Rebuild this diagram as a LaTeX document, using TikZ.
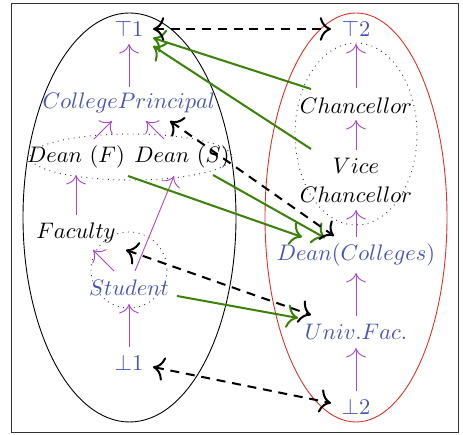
\documentclass[tikz,border=0pt]{standalone}
\usetikzlibrary{arrows.meta}
\definecolor{nodeblue}{RGB}{72,86,178}
\definecolor{purp}{RGB}{170,70,200}
\definecolor{grn}{RGB}{60,130,10}
\definecolor{redl}{RGB}{220,50,40}
\begin{document}
\begin{tikzpicture}[x=0.445pt,y=-0.445pt,
  bl/.style={text=nodeblue},
  bk/.style={text=black},
  parr/.style={draw=purp,-{To[scale=1.7]}},
  garr/.style={draw=grn,line width=0.9pt,-{To[scale=1.4]}},
  darr/.style={draw=black,line width=0.9pt,dash pattern=on 4pt off 3pt,{To[scale=1.4]}-{To[scale=1.4]}},
  dots/.style={draw=black!80,dotted}]
\useasboundingbox (0,0) rectangle (463,435);
\draw[black!80] (11,3) rectangle (458,432);
% containers
\draw[black] (129.5,217.5) ellipse [x radius=106.5, y radius=204.5];
\draw[redl] (356,217.5) ellipse [x radius=91, y radius=204.5];
\draw[dots] (131,157) ellipse [x radius=101, y radius=23];
\draw[dots] (356,134) ellipse [x radius=61, y radius=91];
\draw[dots] (129,270) circle [radius=38];
% nodes left
\node[bl] (t1) at (129,29) {$\top 1$};
\node[bl] (cp) at (129,103) {$CollegePrincipal$};
\node[bk] (deanf) at (76,157) {$Dean\ (F)$};
\node[bk] (deans) at (182,157) {$Dean\ (S)$};
\node[bk] (fac) at (76,233) {$Faculty$};
\node[bl] (stu) at (129,288) {$Student$};
\node[bl] (b1) at (129,363) {$\bot 1$};
% nodes right
\node[bl] (t2) at (356,29) {$\top 2$};
\node[bk] (ch) at (356,106) {$Chancellor$};
\node[bk,align=center] (vc) at (356,180.5) {$Vice$\\[1pt]$Chancellor$};
\node[bl] (dc) at (356,255) {$Dean(Colleges)$};
\node[bl] (uf) at (356,332) {$Univ.Fac.$};
\node[bl] (b2) at (356,407) {$\bot 2$};
% purple order arrows
\draw[parr] ([shift={(0,-16)}]cp.center) -- ([shift={(0,15)}]t1.center);
\draw[parr] ([shift={(18,-18)}]deanf.center) -- ([shift={(-17,18)}]cp.center);
\draw[parr] ([shift={(-18,-18)}]deans.center) -- ([shift={(17,18)}]cp.center);
\draw[parr] ([shift={(0,-18)}]fac.center) -- ([shift={(0,18)}]deanf.center);
\draw[parr] ([shift={(6,-17)}]stu.center) -- ([shift={(-8,19)}]deans.center);
\draw[parr] ([shift={(-15,-17)}]stu.center) -- ([shift={(17,17)}]fac.center);
\draw[parr] ([shift={(0,-16)}]b1.center) -- ([shift={(0,16)}]stu.center);
\draw[parr] ([shift={(0,-18)}]ch.center) -- ([shift={(0,15)}]t2.center);
\draw[parr] ([shift={(0,-30.5)}]vc.center) -- ([shift={(0,14)}]ch.center);
\draw[parr] ([shift={(0,-18)}]dc.center) -- ([shift={(0,29.5)}]vc.center);
\draw[parr] ([shift={(0,-16)}]uf.center) -- ([shift={(0,18)}]dc.center);
\draw[parr] ([shift={(0,-16)}]b2.center) -- ([shift={(0,16)}]uf.center);
% green mapping arrows
\draw[garr] ([shift={(-45,-17)}]ch.center) -- ([shift={(24,9)}]t1.center);
\draw[garr] ([shift={(-45,-31.5)}]vc.center) -- ([shift={(24,17)}]t1.center);
\draw[garr] ([shift={(52,19)}]deanf.center) -- ([shift={(-54,-18)}]dc.center);
\draw[garr] ([shift={(31,18)}]deans.center) -- ([shift={(-31,-17)}]dc.center);
\draw[garr] ([shift={(48,8)}]stu.center) -- ([shift={(-58,-14)}]uf.center);
% dashed correspondences
\draw[darr] ([shift={(24,0)}]t1.center) -- ([shift={(-25,0)}]t2.center);
\draw[darr] ([shift={(41,18)}]cp.center) -- ([shift={(-22,-19)}]dc.center);
\draw[darr] ([shift={(-3,-38)}]stu.center) -- ([shift={(-45,-17)}]uf.center);
\draw[darr] ([shift={(24,4)}]b1.center) -- ([shift={(-25,-4)}]b2.center);
\end{tikzpicture}
\end{document}
